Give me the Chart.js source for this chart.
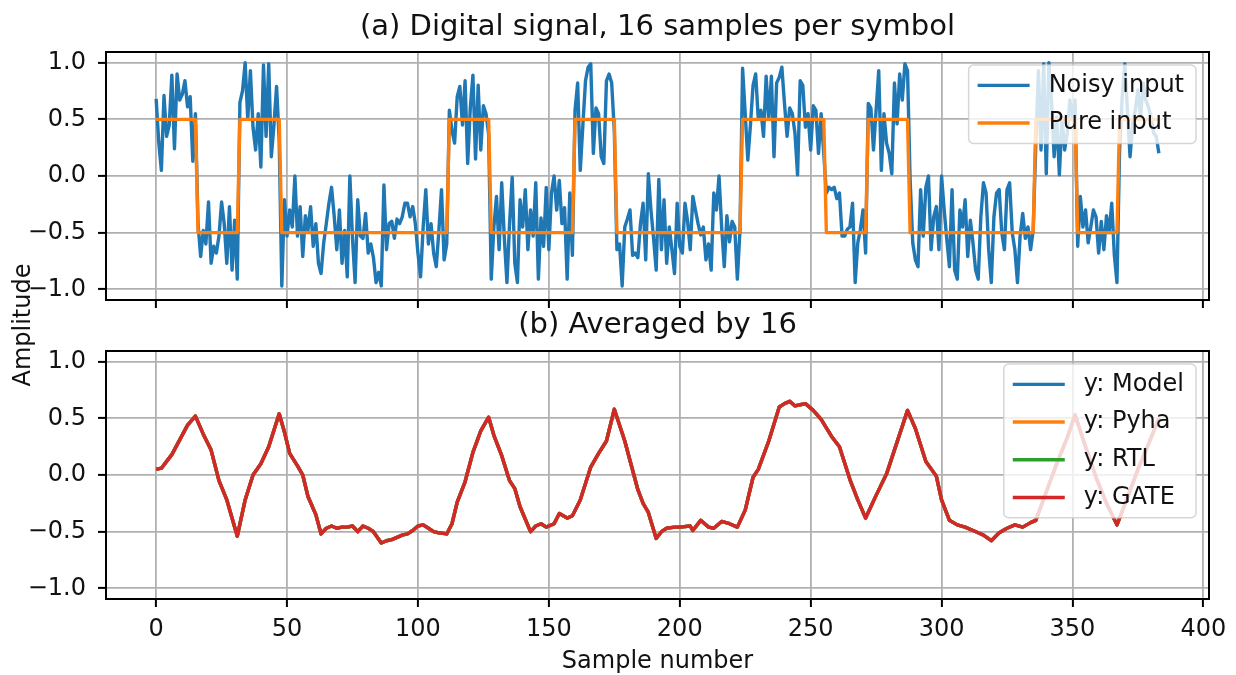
<!DOCTYPE html>
<html lang="en">
<head>
    <meta charset="UTF-8">
    <title>Digital signal, 16 samples per symbol</title>
    <script src="https://cdn.jsdelivr.net/npm/chart.js"></script>
    <style>
        body {
            margin: 0;
            background: #fff;
            font-family: 'DejaVu Sans', sans-serif;
        }
        .wrap {
            position: relative;
            width: 1236px;
            height: 675px;
            overflow: hidden;
        }
        #topBox { position: absolute; left: 0; top: 0; width: 1236px; height: 315px; }
        #botBox { position: absolute; left: 0; top: 290px; width: 1236px; height: 385px; }
        .ylabel {
            position: absolute;
            left: -78px;
            top: 310px;
            width: 200px;
            height: 30px;
            line-height: 30px;
            text-align: center;
            font-size: 24px;
            color: #111;
            transform: rotate(-90deg);
        }
    </style>
</head>
<body>
<div class="wrap">
    <div id="topBox"><canvas id="topChart" width="1236" height="315"></canvas></div>
    <div id="botBox"><canvas id="botChart" width="1236" height="385"></canvas></div>
    <div class="ylabel">Amplitude</div>
</div>

<script>
    // ---- data ----
    const samplesPerSymbol = 16;
    const pureSymbols = [0.5, -0.5, 0.5, -0.5, -0.5, -0.5, -0.5, 0.5, -0.5, -0.5, 0.5, -0.5,
                         -0.5, -0.5, 0.5, 0.5, -0.5, 0.5, -0.5, -0.5, -0.5, 0.5, -0.5, 0.5];

    const noisy = [
        0.68, 0.30, 0.05, 0.71, 0.35, 0.45, 0.89, 0.24, 0.90, 0.67, 0.72, 0.84, 0.61, 0.70, 0.13, 0.55,
        -0.42, -0.71, -0.48, -0.60, -0.23, -0.77, -0.62, -0.68, -0.53, -0.23, -0.42, -0.77, -0.27, -0.83, -0.39, -0.91,
        0.65, 0.75, 1.00, 0.50, 0.93, 0.43, 0.23, 0.55, 0.08, 0.98, 0.35, 0.99, 0.17, 0.45, 0.79, 0.32,
        -0.97, -0.21, -0.53, -0.30, -0.45, 0.00, -0.53, -0.27, -0.71, -0.35, -0.48, -0.27, -0.62, -0.42, -0.77, -0.86,
        -0.59, -0.42, -0.24, -0.10, -0.35, -0.65, -0.30, -0.77, -0.48, -0.89, 0.00, -0.55, -0.94, -0.21, -0.53, -0.55,
        -0.33, -0.68, -0.60, -0.72, -0.94, -0.85, -0.97, -0.08, -0.65, -0.42, -0.40, -0.55, -0.38, -0.42, -0.36, -0.24,
        -0.24, -0.36, -0.27, -0.42, -0.68, -0.89, -0.45, -0.12, -0.60, -0.42, -0.68, -0.80, -0.48, -0.12, -0.74, -0.60,
        0.58, 0.40, 0.29, 0.70, 0.79, 0.45, 0.84, 0.11, 0.60, 0.89, 0.15, 0.80, 0.23, 0.62, 0.55, 0.37,
        -0.91, -0.45, -0.18, -0.65, -0.06, -0.55, -0.94, -0.42, -0.01, -0.77, -0.94, -0.21, -0.45, -0.12, -0.65, -0.30,
        -0.53, -0.06, -0.91, -0.37, -0.62, -0.10, -0.65, -0.15, 0.00, -0.30, -0.04, -0.42, -0.28, -0.91, -0.15, -0.70,
        0.58, 0.82, 0.05, 0.45, 0.84, 0.96, 0.99, 0.20, 0.60, 0.55, 0.17, 0.11, 0.84, 0.90, 0.82, 0.40,
        -0.65, -0.60, -0.97, -0.45, -0.38, -0.30, -0.70, -0.68, -0.72, -0.42, -0.24, -0.74, 0.02, -0.30, -0.55, -0.83,
        -0.03, -0.65, -0.21, -0.77, -0.45, -0.65, -0.86, -0.24, -0.62, -0.68, -0.24, -0.40, -0.65, -0.18, -0.30, -0.42,
        -0.52, -0.45, -0.74, -0.60, -0.83, -0.15, -0.30, 0.00, -0.45, -0.80, -0.35, -0.58, -0.40, -0.45, -0.91, -0.48,
        0.95, 0.55, 0.14, 0.45, 0.80, 0.90, 0.50, 0.58, 0.35, 0.88, 0.50, 0.88, 0.17, 0.82, 0.87, 0.96,
        0.64, 0.35, 0.60, 0.55, 0.38, 0.01, 0.84, 0.80, 0.43, 0.55, 0.23, 0.62, 0.58, 0.20, 0.55, 0.20,
        -0.15, -0.10, -0.12, -0.10, -0.20, -0.15, -0.53, -0.53, -0.47, -0.45, -0.24, -0.94, -0.59, -0.47, -0.30, -0.68,
        0.64, 0.60, 0.23, 0.58, 0.93, 0.05, 0.55, 0.29, 0.20, 0.02, 0.82, 0.46, 0.90, 0.67, 0.99, 0.93,
        -0.04, -0.59, -0.74, -0.80, -0.12, -0.53, -0.10, 0.00, -0.65, -0.36, -0.27, -0.65, 0.00, -0.30, -0.56, -0.80,
        -0.12, -0.83, -0.91, -0.30, -0.45, -0.21, -0.71, -0.39, -0.59, -0.83, -0.91, -0.36, -0.06, -0.15, -0.65, -0.94,
        -0.36, -0.15, -0.12, -0.50, -0.65, -0.12, -0.06, -0.50, -0.65, -0.94, -0.53, -0.33, -0.55, -0.45, -0.65, -0.48,
        0.29, 0.93, 0.23, 0.99, 0.02, 1.00, 0.67, 0.17, 0.52, 0.01, 0.52, 0.23, 0.38, 0.67, 0.52, 0.67,
        -0.62, -0.18, -0.45, -0.30, -0.59, -0.45, -0.30, -0.36, -0.68, -0.40, -0.65, -0.35, -0.50, -0.24, -0.70, -0.94,
        0.23, 0.70, 0.99, 0.58, 0.17, 0.46, 0.58, 0.76, 0.52, 0.82, 0.67, 0.61, 0.52, 0.38, 0.35, 0.20
    ];

    // averaged output (same for Model / Pyha / RTL / GATE)
    const avgX = [0, 2, 4, 6, 9, 12, 15, 18, 21, 24, 27, 31, 34, 37, 40, 43, 47, 49, 51, 54, 56, 58, 61, 63,
                  65, 67, 69, 71, 73, 75, 77, 79, 81, 83, 86, 88, 90, 92, 94, 96, 98, 100, 102, 104, 106, 108,
                  111, 113, 115, 118, 121, 124, 127, 129, 132, 135, 137, 139, 143, 145, 147, 149, 152, 154, 157,
                  159, 162, 166, 169, 172, 175, 179, 184, 186, 188, 191, 193, 195, 198, 200, 204, 205, 208, 211,
                  213, 216, 219, 222, 225, 228, 230, 234, 238, 240, 242, 244, 246, 248, 251, 254, 258, 261, 265,
                  268, 271, 275, 279, 283, 287, 290, 294, 298, 300, 303, 306, 309, 312, 314, 316, 319, 322, 325,
                  328, 331, 334, 336, 340, 344, 348, 351, 355, 359, 363, 367, 371, 375, 379, 383];
    const avgY = [0.05, 0.06, 0.12, 0.18, 0.31, 0.44, 0.52, 0.36, 0.22, -0.05, -0.22, -0.54, -0.22, 0.00, 0.10, 0.25,
                  0.54, 0.38, 0.19, 0.08, 0.00, -0.19, -0.35, -0.52, -0.47, -0.45, -0.47, -0.46, -0.46, -0.45,
                  -0.50, -0.45, -0.47, -0.50, -0.60, -0.58, -0.57, -0.55, -0.53, -0.52, -0.49, -0.45, -0.44,
                  -0.47, -0.50, -0.51, -0.52, -0.43, -0.24, -0.06, 0.20, 0.39, 0.51, 0.35, 0.17, -0.05, -0.12,
                  -0.28, -0.50, -0.45, -0.43, -0.46, -0.43, -0.34, -0.38, -0.36, -0.22, 0.07, 0.19, 0.30, 0.58,
                  0.30, -0.13, -0.25, -0.33, -0.56, -0.50, -0.47, -0.46, -0.46, -0.45, -0.49, -0.40, -0.46,
                  -0.47, -0.41, -0.43, -0.46, -0.31, -0.02, 0.05, 0.30, 0.60, 0.63, 0.65, 0.61, 0.62, 0.63, 0.57,
                  0.49, 0.34, 0.25, -0.04, -0.22, -0.38, -0.18, 0.01, 0.29, 0.57, 0.41, 0.12, -0.01, -0.22,
                  -0.40, -0.44, -0.46, -0.49, -0.51, -0.53, -0.58, -0.51, -0.47, -0.44, -0.46, -0.42, -0.40,
                  -0.15, 0.10, 0.33, 0.53, 0.25, -0.02, -0.25, -0.44, -0.20, 0.05, 0.27, 0.50];

    const xTicks = [0, 50, 100, 150, 200, 250, 300, 350, 400];
    const xTickLabels = ['0', '50', '100', '150', '200', '250', '300', '350', '400'];
    const yTicks = [-1, -0.5, 0, 0.5, 1];
    const yTickLabels = ['\u22121.0', '\u22120.5', '0.0', '0.5', '1.0'];
    const xMin = -19.15, xMax = 402.15;
    const yMin = -1.094, yMax = 1.094;

    // ---- drawing ----
    const FONT = "'DejaVu Sans', sans-serif";
    const TEXT = '#111';
    const ROW_H = 37.7;

    const pure = pureSymbols.flatMap(v => Array(samplesPerSymbol).fill(v));
    const pts = (xs, ys) => ys.map((y, i) => ({ x: xs ? xs[i] : i, y: y }));

    // axes frame + matplotlib-like legend drawn over the lines
    const frameLegend = {
        id: 'frameLegend',
        afterDraw(chart) {
            const { ctx, chartArea: a } = chart;
            ctx.save();
            ctx.strokeStyle = '#000';
            ctx.lineWidth = 2;
            ctx.strokeRect(a.left, a.top, a.right - a.left, a.bottom - a.top);

            const items = chart.data.datasets;
            ctx.font = '24px ' + FONT;
            const textW = Math.max(...items.map(d => ctx.measureText(d.label).width));
            const w = 9 + 52 + 19 + textW + 12;
            const h = items.length * ROW_H + 3;
            const x0 = a.right - 13 - w, y0 = a.top + 13;
            ctx.beginPath();
            ctx.roundRect(x0, y0, w, h, 5);
            ctx.fillStyle = 'rgba(255,255,255,0.8)';
            ctx.fill();
            ctx.strokeStyle = 'rgba(204,204,204,0.8)';
            ctx.lineWidth = 1.5;
            ctx.stroke();

            items.forEach((d, i) => {
                const cy = y0 + 1.5 + ROW_H * (i + 0.5);
                ctx.beginPath();
                ctx.moveTo(x0 + 9, cy);
                ctx.lineTo(x0 + 61, cy);
                ctx.strokeStyle = d.borderColor;
                ctx.lineWidth = d.borderWidth;
                ctx.stroke();
                ctx.fillStyle = TEXT;
                ctx.textBaseline = 'middle';
                ctx.textAlign = 'left';
                ctx.fillText(d.label, x0 + 80, cy);
            });
            ctx.restore();
        }
    };

    function line(label, data, color, order) {
        return {
            label: label, data: data, borderColor: color, backgroundColor: color,
            borderWidth: 3.4, pointRadius: 0, tension: 0, order: order,
            borderJoinStyle: 'round', fill: false
        };
    }

    function makeOptions(title, titlePad, xHeight, showX) {
        const grid = { color: '#b0b0b0', lineWidth: 1.8, tickColor: '#000', tickWidth: 2, tickLength: 8 };
        return {
            responsive: false,
            animation: false,
            devicePixelRatio: 1,
            events: [],
            layout: { padding: { left: 0, right: 27, top: 0, bottom: 0 } },
            plugins: {
                legend: { display: false },
                tooltip: { enabled: false },
                title: {
                    display: true, text: title, fullSize: false, color: TEXT,
                    font: { family: FONT, size: 29, weight: 'normal', lineHeight: 1.2 },
                    padding: titlePad
                }
            },
            scales: {
                x: {
                    type: 'linear', min: xMin, max: xMax,
                    afterBuildTicks: s => { s.ticks = xTicks.map(v => ({ value: v })); },
                    afterFit: s => {
                        s.height = xHeight;
                        s.paddingLeft = 0; s.paddingRight = 0;
                    },
                    grid: grid,
                    border: { display: false },
                    ticks: {
                        display: showX, color: TEXT, padding: 8, maxRotation: 0, autoSkip: false,
                        font: { family: FONT, size: 24 },
                        callback: (v, i) => xTickLabels[i]
                    },
                    title: {
                        display: showX, text: 'Sample number', color: TEXT,
                        font: { family: FONT, size: 24, lineHeight: 1 },
                        padding: { top: 0, bottom: 1 }
                    }
                },
                y: {
                    min: yMin, max: yMax,
                    afterBuildTicks: s => { s.ticks = yTicks.map(v => ({ value: v })); },
                    afterFit: s => {
                        s.width = 106;
                        s.paddingTop = 0; s.paddingBottom = 0;
                    },
                    grid: grid,
                    border: { display: false },
                    ticks: {
                        color: TEXT, padding: 12,
                        font: { family: FONT, size: 24 },
                        callback: (v, i) => yTickLabels[i]
                    }
                }
            }
        };
    }

    new Chart(document.getElementById('topChart'), {
        type: 'line',
        data: {
            datasets: [
                line('Noisy input', pts(null, noisy), '#1f77b4', 2),
                line('Pure input', pts(null, pure), '#ff7f0e', 1)
            ]
        },
        options: makeOptions('(a) Digital signal, 16 samples per symbol', { top: 9.6, bottom: 7.6 }, 15, false),
        plugins: [frameLegend]
    });

    const avg = pts(avgX, avgY);
    new Chart(document.getElementById('botChart'), {
        type: 'line',
        data: {
            datasets: [
                line('y: Model', avg, '#1f77b4', 4),
                line('y: Pyha', avg, '#ff7f0e', 3),
                line('y: RTL', avg, '#2ca02c', 2),
                line('y: GATE', avg, '#d62728', 1)
            ]
        },
        options: makeOptions('(b) Averaged by 16', { top: 17.6, bottom: 8.6 }, 76, true),
        plugins: [frameLegend]
    });
</script>
</body>
</html>
